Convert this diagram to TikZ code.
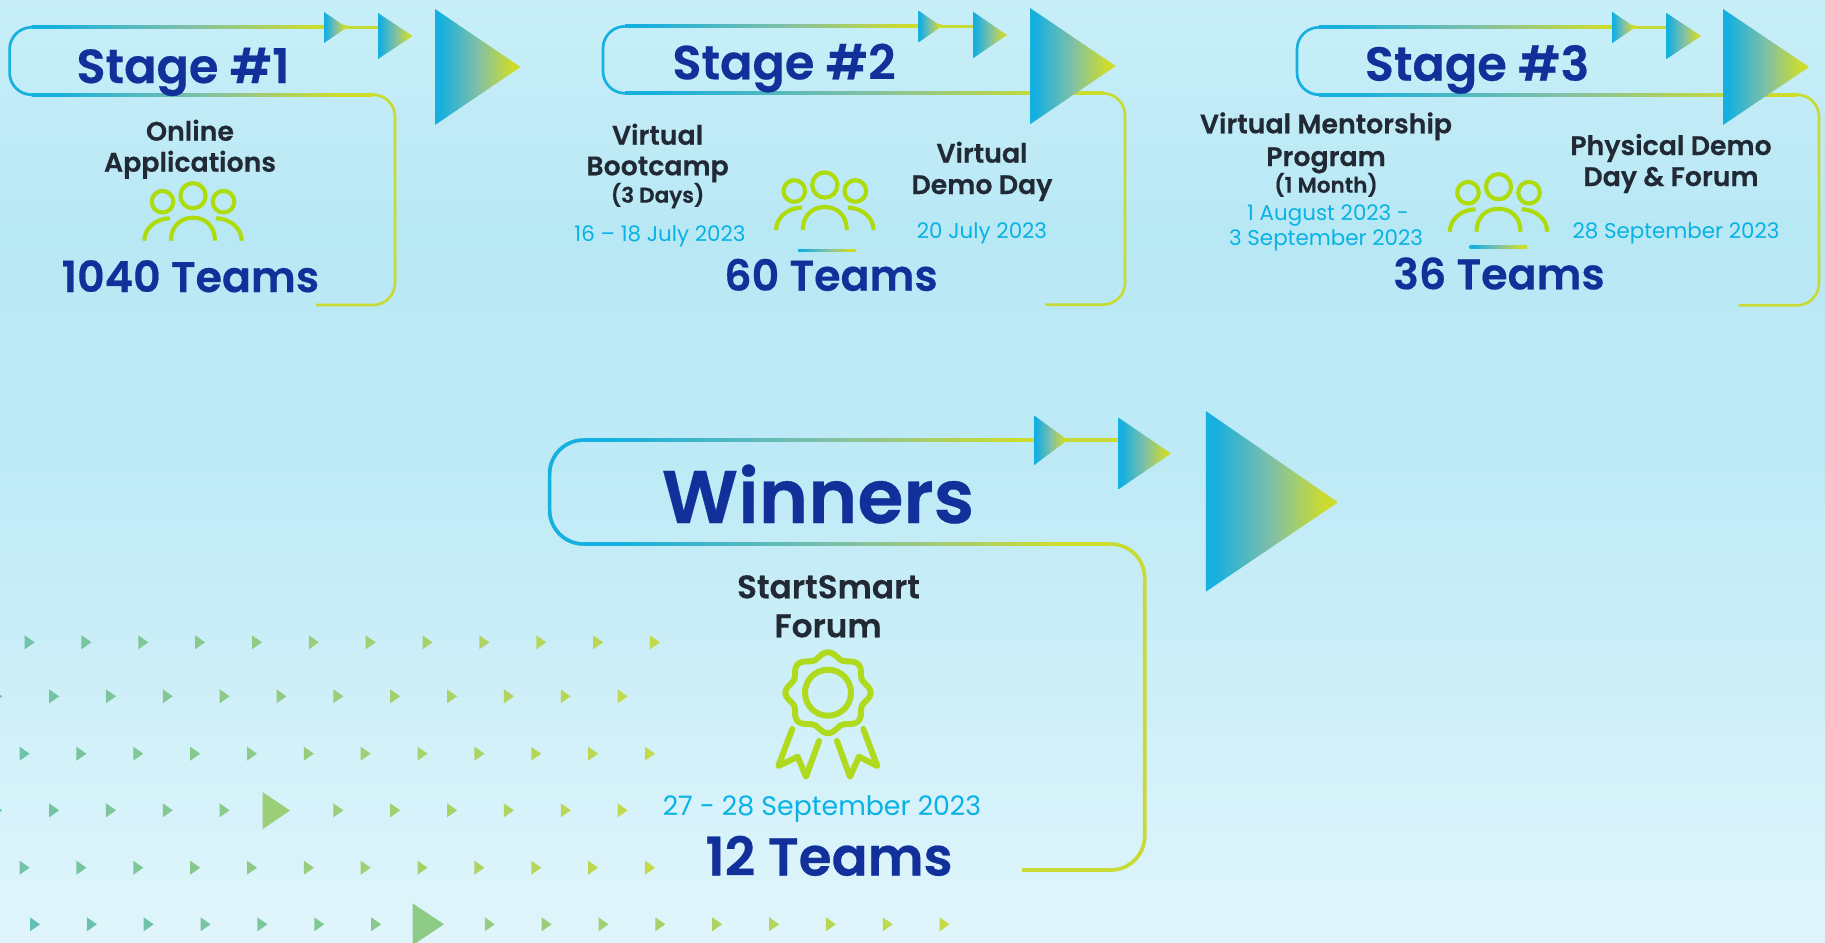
\documentclass[tikz,border=0pt]{standalone}
\usepackage{fontspec}
\setmainfont{Poppins}
\newfontfamily\psb{Poppins SemiBold}[FakeBold=0.4]
\definecolor{navy}{HTML}{11309A}
\definecolor{inkdark}{HTML}{212934}
\definecolor{datecyan}{HTML}{08B2E4}
\definecolor{flowcyan}{HTML}{15AFE0}
\definecolor{flowmid}{HTML}{80C0A6}
\definecolor{flowlime}{HTML}{CDDC2C}
\definecolor{linelime}{HTML}{C8DA36}
\definecolor{iconlime}{HTML}{AEDB0A}
\definecolor{medallime}{HTML}{B0DA1E}
\definecolor{dotcyan}{HTML}{58BCC4}
\definecolor{dotlime}{HTML}{C4DA48}
\definecolor{bgtop}{HTML}{C8EFF8}
\definecolor{bgmid}{HTML}{B9E8F5}
\definecolor{bgmidb}{HTML}{BDEAF6}
\definecolor{bgbot}{HTML}{E0F5FB}
\pgfdeclarehorizontalshading{flowgrad}{100bp}{color(0bp)=(flowcyan); color(28bp)=(flowcyan); color(50bp)=(flowmid); color(70bp)=(flowlime); color(100bp)=(flowlime)}
\pgfdeclareverticalshading{pagegrad}{100bp}{color(0bp)=(bgbot); color(25bp)=(bgbot); color(51bp)=(bgmidb); color(63bp)=(bgmid); color(75bp)=(bgtop); color(100bp)=(bgtop)}
\tikzset{
  stagetxt/.style={anchor=base,inner sep=0pt,text=navy,font=\psb\fontsize{47.8}{50}\selectfont},
  winnertxt/.style={anchor=base,inner sep=0pt,text=navy,font=\psb\fontsize{74.6}{80}\selectfont},
  teamstxt/.style={anchor=base,inner sep=0pt,text=navy,font=\psb\fontsize{42.8}{46}\selectfont},
  wteamstxt/.style={anchor=base,inner sep=0pt,text=navy,font=\psb\fontsize{53.3}{56}\selectfont},
  bigheadtxt/.style={anchor=base,inner sep=0pt,text=inkdark,font=\psb\fontsize{32.7}{36}\selectfont},
  headtxt/.style={anchor=base,inner sep=0pt,text=inkdark,font=\psb\fontsize{26.8}{30}\selectfont},
  subtxt/.style={anchor=base,inner sep=0pt,text=inkdark,font=\psb\fontsize{21.5}{26}\selectfont},
  datetxt/.style={anchor=base,inner sep=0pt,text=datecyan,font=\fontsize{21.4}{25}\selectfont},
  bigdatetxt/.style={anchor=base,inner sep=0pt,text=datecyan,font=\fontsize{26.8}{30}\selectfont},
  grad/.style={shading=flowgrad},
  icon/.style={draw=iconlime,line width=4.1pt},
  medal/.style={draw=medallime,line width=6pt,line cap=round,line join=round},
}
% left top bottom right bottom2 end gradEnd tri2left radius; line width in \flw
\newcommand\flowline[9]{%
  \pgfmathsetmacro\fa{#1+#9}\pgfmathsetmacro\fb{#4-#9}%
  \pgfmathsetmacro\fh{\flw/2}%
  \draw[flowcyan,line width=\flw pt,rounded corners=#9pt] (\fa,#2)--(#1,#2)--(#1,#3)--(\fa,#3);
  \draw[linelime,line width=\flw pt,rounded corners=#9pt] (\fb,#3)--(#4,#3)--(#4,#5)--(#6,#5);
  \pgfmathsetmacro\fu{#2-\fh}\pgfmathsetmacro\fv{#2+\fh}%
  \shade[grad] (\fa,\fu) rectangle (#7,\fv);
  \draw[linelime,line width=\flw pt] (#7,#2)--(#8,#2);
  \pgfmathsetmacro\fu{#3-\fh}\pgfmathsetmacro\fv{#3+\fh}%
  \shade[grad] (\fa,\fu) rectangle (\fb,\fv);
}
\newcommand\gtri[5]{\shade[grad] (#1,#2)--(#3,#4)--(#1,#5)--cycle;}
\newcommand\people[2]{%
  \begin{scope}[shift={(#1,#2)}]
    \draw[icon] (0,15) circle[radius=12.6pt];
    \draw[icon] (-30.5,21) circle[radius=10.8pt];
    \draw[icon] (30.5,21) circle[radius=10.8pt];
    \draw[icon] (-22,60) .. controls (-22,45) and (-12,37) .. (0,37) .. controls (12,37) and (22,45) .. (22,60);
    \draw[icon] (-48.7,60) .. controls (-48.7,49) and (-39,38) .. (-23,37.6);
    \draw[icon] (48.7,60) .. controls (48.7,49) and (39,38) .. (23,37.6);
  \end{scope}}
\newcommand\tinytri[3]{\fill[dotlime!#3!dotcyan] (#1,#2-7)--(#1+10,#2)--(#1,#2+7)--cycle;}
\newcommand\dotrow[4]{% y x0 kmin kmax
  \foreach \k in {#3,...,#4}{%
    \pgfmathsetmacro\dx{#2+\k*56.85}%
    \pgfmathtruncatemacro\dn{min(100,20+\dx/8)}%
    \tinytri{\dx}{#1}{\dn}}}
\begin{document}
\begin{tikzpicture}[x=1pt,y=-1pt]
\useasboundingbox (0,0) rectangle (1825,942);
\shade[shading=pagegrad] (0,0) rectangle (1825,942);
% dot field
\dotrow{642.3}{24.6}{0}{11}
\dotrow{696.3}{49.1}{-1}{10}
\dotrow{753.7}{19.6}{0}{11}
\dotrow{810.3}{49.1}{-1}{3}
\dotrow{810.3}{49.1}{5}{10}
\dotrow{867.7}{19.6}{0}{11}
\fill[dotlime!62!dotcyan] (262.5,792)--(290,810.5)--(262.5,829.3)--cycle;
\foreach \k in {0,...,6,8,9,...,16}{%
  \pgfmathsetmacro\dx{30+\k*56.85}%
  \pgfmathtruncatemacro\dn{8+\dx/10}%
  \tinytri{\dx}{924.3}{\dn}}
\fill[dotlime!50!dotcyan] (412.5,903.3)--(444,924.3)--(412.5,945.3)--cycle;
% flows
\def\flw{2.7}
\flowline{9.6}{27.3}{94.7}{395}{305}{316}{347}{378}{22}
\gtri{324}{12}{347}{27.5}{43}
\gtri{378}{13}{412.5}{36}{59}
\gtri{435}{9}{520.5}{67}{125}
\flowline{603}{26.3}{93.3}{1125}{304.7}{1045}{941.5}{973}{22}
\gtri{918.6}{10.7}{941.5}{26.5}{42.3}
\gtri{973}{11.7}{1007}{35}{58.3}
\gtri{1030}{8}{1115.7}{66}{124.3}
\flowline{1297}{27.3}{94.7}{1819}{305.3}{1738.6}{1635}{1666}{22}
\gtri{1612}{11.7}{1635}{27.5}{43.3}
\gtri{1666}{12.7}{1701}{36}{59.3}
\gtri{1723}{9}{1809}{67}{125}
\def\flw{3.7}
\flowline{549.6}{440}{544}{1144.7}{870}{1022}{1067.6}{1118.5}{34}
\gtri{1034.4}{415.7}{1067.6}{440}{465}
\gtri{1118.5}{417.7}{1171}{453.5}{489.3}
\gtri{1205.8}{411}{1338}{502.3}{591.7}
% short rules
\shade[grad] (798,249) rectangle (856,251.4);
\shade[grad] (1469.6,245.6) rectangle (1526.8,248);
% icons
\people{193}{180.7}
\people{824.8}{170}
\people{1498.5}{171.7}
\draw[medal] plot[domain=0:360,samples=121] ({828+(39.6+3.0*cos(8*\x))*cos(\x)},{692.7+0.95*(39.6+3.0*cos(8*\x))*sin(\x)}) -- cycle;
\draw[medal] (828,692.7) circle[radius=23pt];
\draw[medal] (792.3,729)--(778.3,766)--(797.7,756.7)--(806,776.7)--(819,741);
\draw[medal] (837,741)--(850,776.7)--(859,756.7)--(877.3,766)--(863.3,729);
% Stage 1 text
\node[stagetxt] (s1) at (183,83) {Stage \#1};
\node[headtxt] (s1a) at (190,140.7) {Online};
\node[headtxt] (s1b) at (190,171.7) {Applications};
\node[teamstxt] (s1t) at (190.4,292) {1040 Teams};
% Stage 2 text
\node[stagetxt] (s2) at (784,79.3) {Stage \#2};
\node[headtxt] (s2a) at (657.6,144.7) {Virtual};
\node[headtxt] (s2b) at (657.6,175.3) {Bootcamp};
\node[subtxt] (s2c) at (657.6,202.7) {(3 Days)};
\node[datetxt] (s2d) at (660,241) {16 – 18 July 2023};
\node[teamstxt] (s2t) at (831,290.7) {60 Teams};
\node[headtxt] (s2e) at (982,162.7) {Virtual};
\node[headtxt] (s2f) at (982,194) {Demo Day};
\node[datetxt] (s2g) at (982,238) {20 July 2023};
% Stage 3 text
\node[stagetxt] (s3) at (1477,80.7) {Stage \#3};
\node[headtxt] (s3a) at (1326,133.3) {Virtual Mentorship};
\node[headtxt] (s3b) at (1326,166) {Program};
\node[subtxt] (s3c) at (1326,192.7) {(1 Month)};
\node[datetxt] (s3d) at (1328,220) {1 August 2023 -};
\node[datetxt] (s3e) at (1326,245) {3 September 2023};
\node[teamstxt] (s3t) at (1499,289.3) {36 Teams};
\node[headtxt] (s3f) at (1671,155) {Physical Demo};
\node[headtxt] (s3g) at (1671,186) {Day \& Forum};
\node[datetxt] (s3h) at (1676,238.7) {28 September 2023};
% Winners text
\node[winnertxt] (w) at (818,523) {Winners};
\node[bigheadtxt] (wa) at (828.5,598.3) {StartSmart};
\node[bigheadtxt] (wb) at (828,637.3) {Forum};
\node[bigdatetxt] (wd) at (822,815.7) {27 - 28 September 2023};
\node[wteamstxt] (wt) at (829,875.5) {12 Teams};
\end{tikzpicture}
\end{document}
